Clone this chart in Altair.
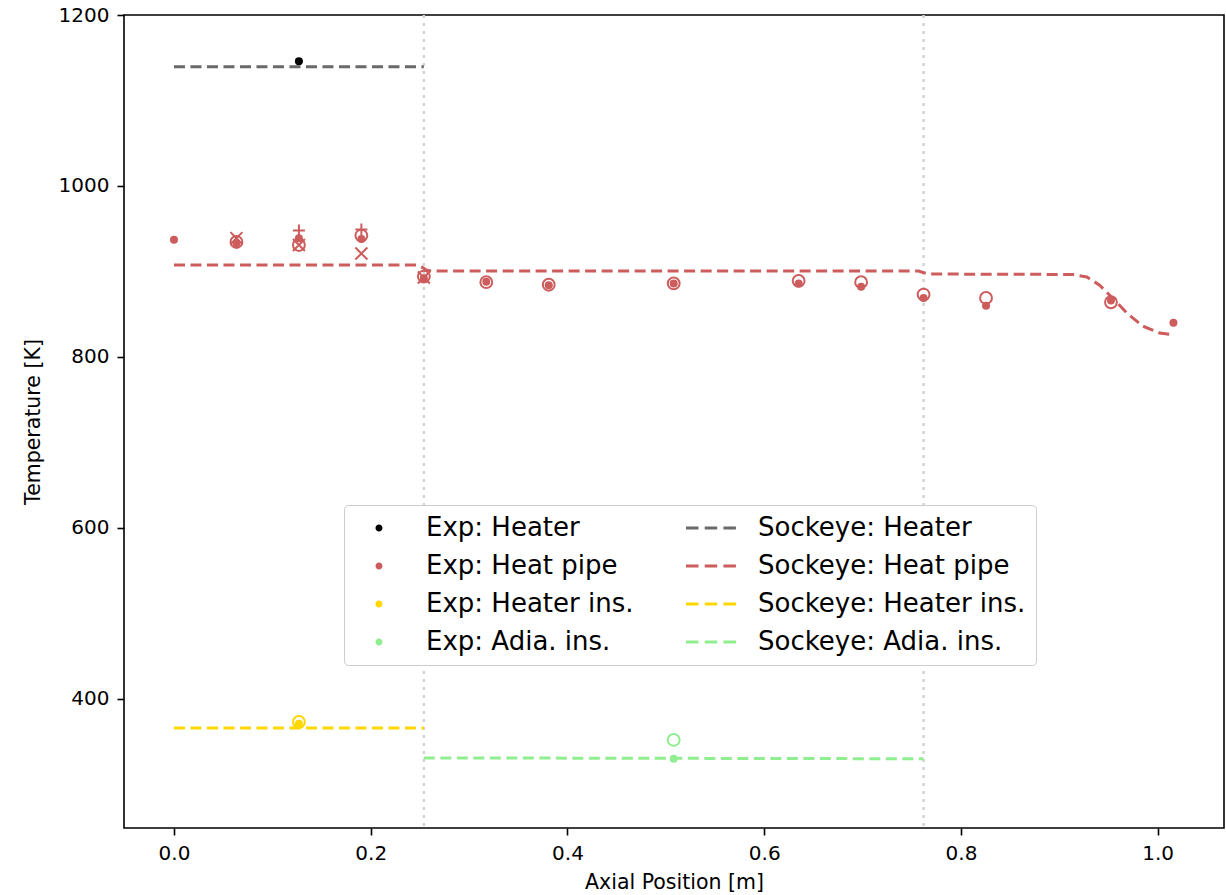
import altair as alt
import pandas as pd

# ---------------- data ----------------
# Sockeye predictions
heater_line_x = [0.0, 0.254]
heater_line_T = [1139.5, 1139.5]

hp_line_x = [0.0, 0.247, 0.252, 0.257, 0.262, 0.757, 0.762, 0.767, 0.914, 0.928,
             0.941, 0.954, 0.969, 0.985, 1.002, 1.016]
hp_line_T = [907.5, 907.5, 905.0, 901.5, 900.5, 900.5, 898.5, 897.0, 896.5, 893.5,
             884.0, 869.0, 851.0, 836.0, 828.0, 826.0]

hins_line_x = [0.0, 0.254]
hins_line_T = [366.0, 366.0]

adia_line_x = [0.254, 0.762]
adia_line_T = [331.0, 330.0]

# Experimental data
heater_exp_x = [0.127]
heater_exp_T = [1146.0]

hp_dot_x = [0.0, 0.0635, 0.127, 0.1905, 0.254, 0.3175, 0.381, 0.508, 0.635, 0.6985,
            0.762, 0.8255, 0.9525, 1.016]
hp_dot_T = [937.0, 933.0, 939.0, 938.0, 892.0, 888.0, 884.0, 886.0, 886.0, 882.0,
            869.0, 860.0, 866.0, 840.0]

hp_circ_x = [0.0635, 0.127, 0.1905, 0.254, 0.3175, 0.381, 0.508, 0.635, 0.6985,
             0.762, 0.8255, 0.9525]
hp_circ_T = [934.5, 931.0, 942.0, 894.0, 887.5, 884.5, 886.0, 889.0, 887.5,
             873.0, 869.0, 864.0]

hp_plus_x = [0.127, 0.1905]
hp_plus_T = [948.0, 949.0]

hp_cross_x = [0.0635, 0.127, 0.1905, 0.254]
hp_cross_T = [939.0, 931.0, 921.0, 893.0]

hins_dot_x = [0.127]
hins_dot_T = [371.0]
hins_circ_x = [0.127]
hins_circ_T = [373.0]

adia_dot_x = [0.508]
adia_dot_T = [330.0]
adia_circ_x = [0.508]
adia_circ_T = [352.0]

section_bounds = [0.254, 0.762]

# legend entries (filled column by column: experiments, then Sockeye)
legend_labels = ["Exp: Heater", "Exp: Heat pipe", "Exp: Heater ins.", "Exp: Adia. ins.",
                 "Sockeye: Heater", "Sockeye: Heat pipe", "Sockeye: Heater ins.",
                 "Sockeye: Adia. ins."]

x_ticks = [0.0, 0.2, 0.4, 0.6, 0.8, 1.0]
y_ticks = [400, 600, 800, 1000, 1200]

# ---------------- styling ----------------
C_HEATER_EXP = "#000000"
C_HEATER = "#696969"
C_HP = "#cd5c5c"
C_HINS = "#ffd700"
C_ADIA = "#90ee90"

legend_colors = [C_HEATER_EXP, C_HP, C_HINS, C_ADIA, C_HEATER, C_HP, C_HINS, C_ADIA]
DOT_PATH = "M1.19,0A0.27,0.27 0 1,1 0.65,0A0.27,0.27 0 1,1 1.19,0Z"
DASH_PATH = ("M-1,-0.115H-0.04V0.115H-1Z M0.44,-0.115H1.4V0.115H0.44Z "
             "M1.88,-0.115H2.84V0.115H1.88Z")
legend_shapes = [DOT_PATH] * 4 + [DASH_PATH] * 4

PLUS_PATH = "M-1,0H1M0,-1V1"
CROSS_PATH = "M-1,-1L1,1M-1,1L1,-1"
DASH = [11, 5.5]
FONT = "DejaVu Sans"

X = alt.X("x:Q",
          scale=alt.Scale(domain=[-0.0508, 1.0674], nice=False, zero=False),
          axis=alt.Axis(values=x_ticks, format=".1f", title="Axial Position [m]"))
Y = alt.Y("T:Q",
          scale=alt.Scale(domain=[249, 1200], nice=False, zero=False),
          axis=alt.Axis(values=y_ticks, format="d", title="Temperature [K]"))


def df(xs, ts):
    return pd.DataFrame({"x": xs, "T": ts})


def line(xs, ts, color):
    return alt.Chart(df(xs, ts)).mark_line(
        color=color, strokeDash=DASH, strokeWidth=3, clip=True
    ).encode(x=X, y=Y)


def dots(xs, ts, color):
    return alt.Chart(df(xs, ts)).mark_point(
        shape="circle", filled=True, size=64, color=color, opacity=1, strokeWidth=0
    ).encode(x=X, y=Y)


def rings(xs, ts, color):
    return alt.Chart(df(xs, ts)).mark_point(
        shape="circle", filled=False, size=140, color=color, opacity=1, strokeWidth=2
    ).encode(x=X, y=Y)


def path_marker(xs, ts, color, path):
    return alt.Chart(df(xs, ts)).mark_point(
        shape=path, filled=False, size=144, color=color, opacity=1, strokeWidth=2
    ).encode(x=X, y=Y)


bounds = alt.Chart(pd.DataFrame({"x": section_bounds})).mark_rule(
    color="#d3d3d3", strokeDash=[3, 5], strokeWidth=2.5
).encode(x=X)

legend_cfg = alt.Legend(
    title=None, orient="none", legendX=220, legendY=490, columns=2,
    symbolSize=676, symbolStrokeWidth=0, symbolOpacity=1,
    labelFontSize=26, labelFont=FONT, labelColor="black", labelLimit=500,
    labelOffset=46, columnPadding=52, rowPadding=12, padding=10,
    strokeColor="#cccccc", fillColor="white", cornerRadius=4,
)

legend_df = pd.DataFrame({"series": legend_labels,
                          "x": [None] * len(legend_labels),
                          "T": [None] * len(legend_labels)})
legend_layer = alt.Chart(legend_df).mark_point(filled=True, opacity=1, size=676).encode(
    x=X, y=Y,
    color=alt.Color("series:N", scale=alt.Scale(domain=legend_labels, range=legend_colors),
                    legend=legend_cfg),
    shape=alt.Shape("series:N", scale=alt.Scale(domain=legend_labels, range=legend_shapes),
                    legend=legend_cfg),
)

layers = [
    bounds,
    line(heater_line_x, heater_line_T, C_HEATER),
    line(hp_line_x, hp_line_T, C_HP),
    line(hins_line_x, hins_line_T, C_HINS),
    line(adia_line_x, adia_line_T, C_ADIA),
    dots(heater_exp_x, heater_exp_T, C_HEATER_EXP),
    dots(hp_dot_x, hp_dot_T, C_HP),
    rings(hp_circ_x, hp_circ_T, C_HP),
    path_marker(hp_plus_x, hp_plus_T, C_HP, PLUS_PATH),
    path_marker(hp_cross_x, hp_cross_T, C_HP, CROSS_PATH),
    dots(hins_dot_x, hins_dot_T, C_HINS),
    rings(hins_circ_x, hins_circ_T, C_HINS),
    dots(adia_dot_x, adia_dot_T, C_ADIA),
    rings(adia_circ_x, adia_circ_T, C_ADIA),
    legend_layer,
]

chart = alt.layer(*layers).properties(
    width=1100, height=813,
    autosize=alt.AutoSizeParams(type="none"),
    padding={"left": 124, "top": 15, "right": 2, "bottom": 67},
    background="white",
).configure_view(
    stroke="black", strokeWidth=1.6
).configure_axis(
    grid=False, domain=False,
    labelFont=FONT, labelFontSize=20, labelColor="black", labelPadding=8,
    titleFont=FONT, titleFontSize=20.5, titleFontWeight="normal", titleColor="black",
    tickColor="black", tickSize=7, tickWidth=1.6,
).configure_axisX(titlePadding=9).configure_axisY(titlePadding=15)

chart.save("out.html", embed_options={"renderer": "svg", "actions": False})
